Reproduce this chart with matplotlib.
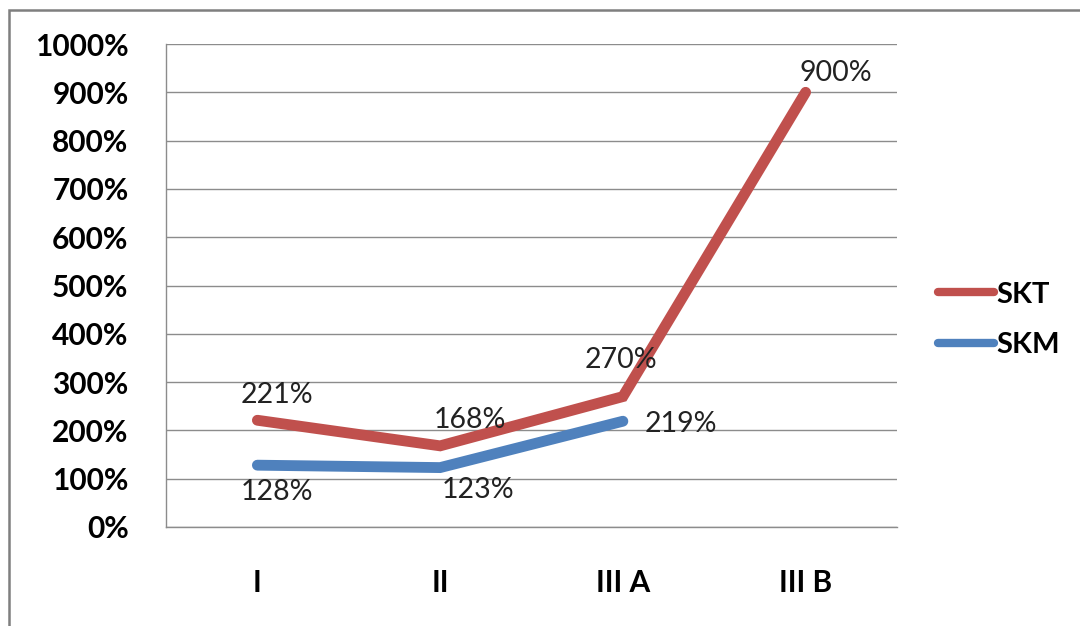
import matplotlib.pyplot as plt
from matplotlib.patches import Rectangle
from matplotlib.ticker import FuncFormatter, MultipleLocator

# stages and ratios (percent)
stages = ['I', 'II', 'III A', 'III B']
skt = [221, 168, 270, 900]
skm = [128, 123, 219]

# label offsets in pixels, one per point
skt_offsets = [(20, 25), (30, 26), (-2, 37), (30, 19)]
skm_offsets = [(20, -27), (38, -22), (58, -3)]

red = '#C0504D'
blue = '#4F81BD'
grid_gray = '#8C8C8C'

plt.rcParams['font.family'] = ['Lato', 'DejaVu Sans']

fig = plt.figure(figsize=(10.8, 6.26), dpi=100)
fig.patch.set_facecolor('white')

# outer chart frame (only left and top edges fall inside the image)
fig.patches.append(Rectangle((9 / 1080, -0.1), 1.2, 1 - 10 / 626 + 0.1,
                             transform=fig.transFigure, fill=False,
                             edgecolor='#7F7F7F', linewidth=1.8))

ax = fig.add_axes([166 / 1080, 1 - 527 / 626, (897 - 166) / 1080, (527 - 44) / 626])

x = list(range(len(stages)))
ax.plot(x, skt, color=red, linewidth=7.8, solid_capstyle='round',
        solid_joinstyle='miter', label='SKT', zorder=3)
ax.plot(x[:len(skm)], skm, color=blue, linewidth=7.8, solid_capstyle='round',
        solid_joinstyle='miter', label='SKM', zorder=3)

for xi, v, off in zip(x, skt, skt_offsets):
    ax.annotate(f'{v}%', (xi, v), xytext=off, textcoords='offset pixels',
                ha='center', va='center', fontsize=20.5, color='#222222', zorder=4)
for xi, v, off in zip(x, skm, skm_offsets):
    ax.annotate(f'{v}%', (xi, v), xytext=off, textcoords='offset pixels',
                ha='center', va='center', fontsize=20.5, color='#222222', zorder=4)

ax.set_xlim(-0.5, len(stages) - 0.5)
ax.set_ylim(0, 1000)
ax.yaxis.set_major_locator(MultipleLocator(100))
ax.yaxis.set_major_formatter(FuncFormatter(lambda v, p: f'{v:.0f}%'))
ax.set_xticks(x)
ax.set_xticklabels(stages)

ax.grid(axis='y', color=grid_gray, linewidth=1)
ax.set_axisbelow(True)
for side in ['right', 'top']:
    ax.spines[side].set_visible(False)
for side in ['left', 'bottom']:
    ax.spines[side].set_color(grid_gray)
    ax.spines[side].set_linewidth(1)

ax.tick_params(axis='both', length=0, labelsize=21.5, colors='black')
ax.tick_params(axis='y', pad=27)
ax.tick_params(axis='x', pad=30)
for lbl in ax.get_xticklabels() + ax.get_yticklabels():
    lbl.set_fontweight('bold')

leg = fig.legend(loc='center left', bbox_to_anchor=(912 / 1080, 1 - 320 / 626),
                 frameon=False, fontsize=21, handlelength=1.9,
                 handletextpad=0.1, labelspacing=0.85)
for t in leg.get_texts():
    t.set_fontweight('bold')
for h in leg.get_lines():
    h.set_linewidth(6)
    h.set_solid_capstyle('round')

fig.savefig('out.png', dpi=100, facecolor='white')
